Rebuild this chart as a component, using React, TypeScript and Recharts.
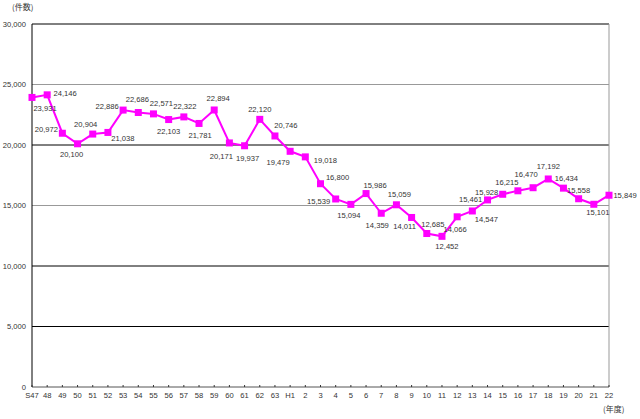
import { LineChart, Line, XAxis, YAxis, ReferenceLine, LabelList } from "recharts";

// ── Data ───────────────────────────────────────────────────────────────
const YEARS = [
  "S47", "48", "49", "50", "51", "52", "53", "54", "55", "56", "57", "58", "59", "60", "61", "62", "63",
  "H1", "2", "3", "4", "5", "6", "7", "8", "9", "10", "11", "12", "13", "14", "15", "16", "17", "18", "19", "20", "21", "22",
];

const CASES = [
  23931, 24146, 20972, 20100, 20904, 21038, 22886, 22686, 22571, 22103, 22322, 21781, 22894, 20171, 19937, 22120, 20746,
  19479, 19018, 16800, 15539, 15094, 15986, 14359, 15059, 14011, 12685, 12452, 14066, 14547, 15461, 15928, 16215, 16470,
  17192, 16434, 15558, 15101, 15849,
];

const Y_TICKS = [0, 5000, 10000, 15000, 20000, 25000, 30000];

// label offsets from each point (dx, dy), as placed in the original
const LABEL_OFFSETS: [number, number][] = [
  [13, 11], [18, -1], [-16, -4], [-6, 11], [-7, -10], [15, 6], [-16, -4], [-1, -13], [8, -10], [0, 12],
  [1, -10], [1, 12], [4, -11], [-8, 14], [3, 13], [0, -10], [11, -10], [-12, 11], [20, 4], [17, -6],
  [-17, 3], [-2, 11], [9, -8], [-4, 12], [3, -10], [-7, 9], [6, -9], [5, 10], [-2, 13], [14, 9],
  [-17, 0], [-16, -2], [-11, -8], [-7, -13], [0, -12], [3, -10], [0, -8], [4, 8], [16, 0],
];

const data = YEARS.map((year, i) => ({ year, cases: CASES[i] }));

const FONT = "'Liberation Sans', Arial, sans-serif";
const JP_FONT = "'Noto Sans CJK JP', sans-serif";
const TEXT = "#333";
const MAGENTA = "#ff00ff";

// ── Pieces ─────────────────────────────────────────────────────────────
function SquareDot({ cx, cy }: any) {
  if (cx == null || cy == null) return null;
  return <rect x={cx - 3.5} y={cy - 3.5} width={7} height={7} fill={MAGENTA} />;
}

function ValueLabel({ x, y, value, index }: any) {
  const [dx, dy] = LABEL_OFFSETS[index] ?? [0, -10];
  return (
    <text x={x + dx} y={y + dy} textAnchor="middle" dominantBaseline="central"
      fontSize={7.6} fontFamily={FONT} fill={TEXT}>
      {Number(value).toLocaleString("en-US")}
    </text>
  );
}

function YearTick({ x, y, payload }: any) {
  return (
    <g>
      <line x1={x} x2={x} y1={y - 2} y2={y} stroke="#333" strokeWidth={1} />
      <text x={x} y={y + 8.5} textAnchor="middle" dominantBaseline="central"
        fontSize={7.6} fontFamily={FONT} fill={TEXT}>
        {payload.value}
      </text>
    </g>
  );
}

// ── App ────────────────────────────────────────────────────────────────
export default function App() {
  return (
    <div style={{ position: "relative", width: 640, height: 419, background: "#fff" }}>
      <style>{`body{margin:0}`}</style>
      <LineChart width={640} height={419} data={data}
        margin={{ top: 24, right: 31, left: 0, bottom: 0 }}>
        <XAxis dataKey="year" height={32} interval={0} axisLine={{ stroke: "#555" }}
          tickLine={false} tickSize={0} tickMargin={0} tick={<YearTick />} />
        <YAxis width={32} domain={[0, 30000]} ticks={Y_TICKS} interval={0}
          axisLine={{ stroke: "#000" }} tickLine={false} tickSize={0} tickMargin={6}
          tick={{ fontSize: 7.6, fontFamily: FONT, fill: TEXT }}
          tickFormatter={(v: number) => v.toLocaleString("en-US")} />
        {[5000, 10000, 20000, 30000].map((v) => (
          <ReferenceLine key={v} y={v} stroke="#000" strokeWidth={1} />
        ))}
        {[15000, 25000].map((v) => (
          <ReferenceLine key={v} y={v} stroke="#999" strokeWidth={1} />
        ))}
        <ReferenceLine x="22" stroke="#999" strokeWidth={1} />
        <Line type="linear" dataKey="cases" stroke={MAGENTA} strokeWidth={2}
          dot={<SquareDot />} activeDot={false} isAnimationActive={false}>
          <LabelList dataKey="cases" content={<ValueLabel />} />
        </Line>
      </LineChart>
      <div style={{ position: "absolute", left: 12, top: 1, fontSize: 8, lineHeight: "12px", fontFamily: JP_FONT, color: TEXT }}>
        (件数)
      </div>
      <div style={{ position: "absolute", left: 603, top: 403, fontSize: 8, lineHeight: "12px", fontFamily: JP_FONT, color: TEXT }}>
        (年度)
      </div>
    </div>
  );
}
